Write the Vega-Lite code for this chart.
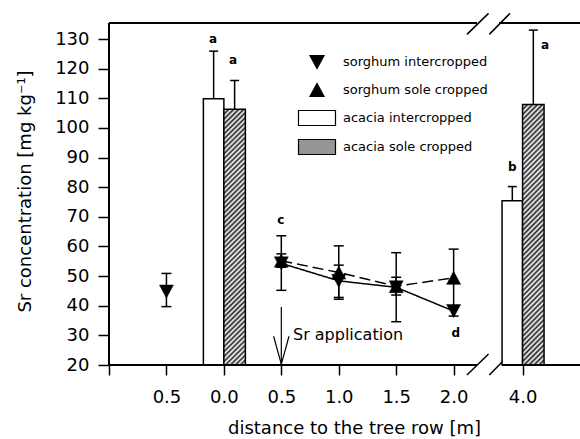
{
  "$schema": "https://vega.github.io/schema/vega-lite/v6.json",
  "width": 471,
  "height": 342,
  "autosize": {"type": "none"},
  "padding": {"left": 109, "top": 23, "right": 0, "bottom": 74},
  "background": "white",
  "config": {
    "view": {"stroke": null},
    "font": "DejaVu Sans",
    "axis": {"grid": false},
    "axisY": {
      "tickCount": 12, "domain": false, "tickSize": 11, "tickWidth": 1.5, "tickColor": "black",
      "labelFont": "DejaVu Sans", "labelFontSize": 18, "labelColor": "black", "labelPadding": 9,
      "labelOverlap": false, "labelFlush": false,
      "titleFont": "DejaVu Sans", "titleFontSize": 18, "titleFontWeight": "normal", "titleColor": "black"
    }
  },
  "datasets": {
    "sorghum": [
      {"pos": 0, "distance": "0.5", "series": "sorghum intercropped", "value": 44.8, "lo": 39.7, "hi": 50.9},
      {"pos": 2, "distance": "0.5", "series": "sorghum intercropped", "value": 54.3, "lo": 45.2, "hi": 63.6},
      {"pos": 3, "distance": "1.0", "series": "sorghum intercropped", "value": 48.4, "lo": 42.8, "hi": 53.7},
      {"pos": 4, "distance": "1.5", "series": "sorghum intercropped", "value": 46.2, "lo": 34.6, "hi": 57.9},
      {"pos": 5, "distance": "2.0", "series": "sorghum intercropped", "value": 38.2, "lo": 36.5, "hi": 40.0},
      {"pos": 2, "distance": "0.5", "series": "sorghum sole cropped", "value": 55.2, "lo": 53.0, "hi": 57.5},
      {"pos": 3, "distance": "1.0", "series": "sorghum sole cropped", "value": 51.2, "lo": 42.2, "hi": 60.2},
      {"pos": 4, "distance": "1.5", "series": "sorghum sole cropped", "value": 46.6, "lo": 43.6, "hi": 49.6},
      {"pos": 5, "distance": "2.0", "series": "sorghum sole cropped", "value": 49.4, "lo": 39.7, "hi": 59.1}
    ],
    "acacia": [
      {"pos": 1, "distance": "0.0", "series": "acacia intercropped", "value": 109.8, "hi": 125.9},
      {"pos": 1, "distance": "0.0", "series": "acacia sole cropped", "value": 106.3, "hi": 116.0},
      {"pos": 6.2, "distance": "4.0", "series": "acacia intercropped", "value": 75.4, "hi": 80.2},
      {"pos": 6.2, "distance": "4.0", "series": "acacia sole cropped", "value": 107.9, "hi": 133.0}
    ],
    "segments": [
      {"kind": "break", "x": 5.232, "x2": 5.608, "y": 131.57, "y2": 138.66},
      {"kind": "break", "x": 5.621, "x2": 5.981, "y": 131.57, "y2": 138.66},
      {"kind": "break", "x": 5.232, "x2": 5.608, "y": 16.63, "y2": 23.71},
      {"kind": "break", "x": 5.621, "x2": 5.981, "y": 16.63, "y2": 23.71},
      {"kind": "frame", "x": -1, "x2": -1, "y": 20, "y2": 135.4},
      {"kind": "frame", "x": -1, "x2": 5.407, "y": 135.4, "y2": 135.4},
      {"kind": "frame", "x": 5.79, "x2": 7.3, "y": 135.4, "y2": 135.4},
      {"kind": "frame", "x": -1, "x2": 5.407, "y": 20, "y2": 20},
      {"kind": "frame", "x": 5.842, "x2": 7.3, "y": 20, "y2": 20},
      {"kind": "arrow", "x": 2, "x2": 2, "y": 39.6, "y2": 20.3},
      {"kind": "arrow", "x": 1.866, "x2": 2, "y": 29.7, "y2": 20.3},
      {"kind": "arrow", "x": 2.134, "x2": 2, "y": 29.7, "y2": 20.3}
    ],
    "letters": [
      {"x": 0.81, "y": 130.0, "label": "a"},
      {"x": 1.159, "y": 122.9, "label": "a"},
      {"x": 1.99, "y": 68.9, "label": "c"},
      {"x": 5.036, "y": 30.7, "label": "d"},
      {"x": 6.02, "y": 86.8, "label": "b"},
      {"x": 6.59, "y": 128.0, "label": "a"}
    ],
    "notes": [
      {"x": 2.203, "y": 30.1, "label": "Sr application"}
    ]
  },
  "layer": [
    {
      "data": {"name": "segments"},
      "transform": [{"filter": "datum.kind == 'break'"}],
      "mark": {"type": "rule", "color": "black", "strokeWidth": 1.5},
      "encoding": {
        "x": {"field": "x", "type": "quantitative",
          "scale": {"domain": [-1, 7.2], "nice": false, "zero": false, "padding": 0},
          "axis": {
            "values": [-1, 0, 1, 2, 3, 4, 5, 6.2],
            "labelExpr": "datum.value == 0 ? '0.5' : datum.value == 1 ? '0.0' : datum.value == 2 ? '0.5' : datum.value == 3 ? '1.0' : datum.value == 4 ? '1.5' : datum.value == 5 ? '2.0' : datum.value == 6.2 ? '4.0' : ''",
            "domain": false, "tickSize": 10, "tickWidth": 1.5, "tickColor": "black",
            "labelFont": "DejaVu Sans", "labelFontSize": 18, "labelColor": "black", "labelPadding": 13,
            "labelFlush": false, "labelOverlap": false,
            "title": "distance to the tree row [m]", "titleFont": "DejaVu Sans", "titleFontSize": 18,
            "titleFontWeight": "normal", "titleColor": "black", "titleX": 245, "titleY": 63,
            "titleBaseline": "middle", "titleAlign": "center"
          }},
        "x2": {"field": "x2"},
        "y": {"field": "y", "type": "quantitative",
          "scale": {"domain": [20, 135.4], "nice": false, "zero": false, "padding": 0},
          "axis": {
            "values": [20, 30, 40, 50, 60, 70, 80, 90, 100, 110, 120, 130],
            "tickCount": 12,
            "title": "Sr concentration [mg kg⁻¹]", "titleX": -84, "titleY": 168,
            "titleBaseline": "middle", "titleAlign": "center", "titleAngle": -90
          }},
        "y2": {"field": "y2"}
      }
    },
    {
      "data": {"name": "acacia"},
      "transform": [{"filter": "datum.series == 'acacia intercropped'"}],
      "mark": {"type": "bar", "width": 20.5, "xOffset": -10.25, "stroke": "black", "strokeWidth": 1.5},
      "encoding": {
        "x": {"field": "pos", "type": "quantitative"},
        "y": {"field": "value", "type": "quantitative"},
        "y2": {"datum": 20},
        "fill": {"field": "series", "type": "nominal",
          "scale": {"domain": ["sorghum intercropped", "sorghum sole cropped", "acacia intercropped", "acacia sole cropped"],
                    "range": ["black", "black", "white", "#969696"]},
          "legend": {"orient": "none", "legendX": 197, "legendY": 28, "title": null, "padding": 0,
            "symbolSize": 400, "symbolStrokeColor": "black", "symbolStrokeWidth": 1.2, "symbolOpacity": 1,
            "labelFont": "DejaVu Sans", "labelFontSize": 13, "labelColor": "black", "rowPadding": 8, "labelOffset": 15,
            "encode": {"symbols": {"update": {
              "stroke": {"value": "black"},
              "strokeWidth": {"value": 1.2},
              "fill": [
              {"test": "datum.value == 'acacia sole cropped'",
               "value": {"gradient": "linear", "x1": 0, "y1": 0, "x2": 1.207, "y2": 0.489, "stops": [
                 {"offset": 0.0, "color": "#222"}, {"offset": 0.05, "color": "#fff"},
                 {"offset": 0.1, "color": "#222"}, {"offset": 0.15, "color": "#fff"},
                 {"offset": 0.2, "color": "#222"}, {"offset": 0.25, "color": "#fff"},
                 {"offset": 0.3, "color": "#222"}, {"offset": 0.35, "color": "#fff"},
                 {"offset": 0.4, "color": "#222"}, {"offset": 0.45, "color": "#fff"},
                 {"offset": 0.5, "color": "#222"}, {"offset": 0.55, "color": "#fff"},
                 {"offset": 0.6, "color": "#222"}, {"offset": 0.65, "color": "#fff"},
                 {"offset": 0.7, "color": "#222"}, {"offset": 0.75, "color": "#fff"},
                 {"offset": 0.8, "color": "#222"}, {"offset": 0.85, "color": "#fff"},
                 {"offset": 0.9, "color": "#222"}, {"offset": 0.95, "color": "#fff"},
                 {"offset": 1.0, "color": "#222"}]}},
              {"test": "datum.value == 'acacia intercropped'", "value": "white"},
              {"value": "black"}
            ]}}}}}
      }
    },
    {
      "data": {"name": "acacia"},
      "transform": [{"filter": "datum.series == 'acacia sole cropped'"}],
      "mark": {"type": "bar", "width": 21.5, "xOffset": 10.75, "stroke": "black", "strokeWidth": 1.5,
        "fill": {"gradient": "linear", "x1": 0, "y1": 0, "x2": 0.0897, "y2": 1.0758, "stops": [
          {"offset": 0.0, "color": "#222"}, {"offset": 0.0089, "color": "#fff"},
          {"offset": 0.0179, "color": "#222"}, {"offset": 0.0268, "color": "#fff"},
          {"offset": 0.0357, "color": "#222"}, {"offset": 0.0446, "color": "#fff"},
          {"offset": 0.0536, "color": "#222"}, {"offset": 0.0625, "color": "#fff"},
          {"offset": 0.0714, "color": "#222"}, {"offset": 0.0804, "color": "#fff"},
          {"offset": 0.0893, "color": "#222"}, {"offset": 0.0982, "color": "#fff"},
          {"offset": 0.1071, "color": "#222"}, {"offset": 0.1161, "color": "#fff"},
          {"offset": 0.125, "color": "#222"}, {"offset": 0.1339, "color": "#fff"},
          {"offset": 0.1429, "color": "#222"}, {"offset": 0.1518, "color": "#fff"},
          {"offset": 0.1607, "color": "#222"}, {"offset": 0.1696, "color": "#fff"},
          {"offset": 0.1786, "color": "#222"}, {"offset": 0.1875, "color": "#fff"},
          {"offset": 0.1964, "color": "#222"}, {"offset": 0.2054, "color": "#fff"},
          {"offset": 0.2143, "color": "#222"}, {"offset": 0.2232, "color": "#fff"},
          {"offset": 0.2321, "color": "#222"}, {"offset": 0.2411, "color": "#fff"},
          {"offset": 0.25, "color": "#222"}, {"offset": 0.2589, "color": "#fff"},
          {"offset": 0.2679, "color": "#222"}, {"offset": 0.2768, "color": "#fff"},
          {"offset": 0.2857, "color": "#222"}, {"offset": 0.2946, "color": "#fff"},
          {"offset": 0.3036, "color": "#222"}, {"offset": 0.3125, "color": "#fff"},
          {"offset": 0.3214, "color": "#222"}, {"offset": 0.3304, "color": "#fff"},
          {"offset": 0.3393, "color": "#222"}, {"offset": 0.3482, "color": "#fff"},
          {"offset": 0.3571, "color": "#222"}, {"offset": 0.3661, "color": "#fff"},
          {"offset": 0.375, "color": "#222"}, {"offset": 0.3839, "color": "#fff"},
          {"offset": 0.3929, "color": "#222"}, {"offset": 0.4018, "color": "#fff"},
          {"offset": 0.4107, "color": "#222"}, {"offset": 0.4196, "color": "#fff"},
          {"offset": 0.4286, "color": "#222"}, {"offset": 0.4375, "color": "#fff"},
          {"offset": 0.4464, "color": "#222"}, {"offset": 0.4554, "color": "#fff"},
          {"offset": 0.4643, "color": "#222"}, {"offset": 0.4732, "color": "#fff"},
          {"offset": 0.4821, "color": "#222"}, {"offset": 0.4911, "color": "#fff"},
          {"offset": 0.5, "color": "#222"}, {"offset": 0.5089, "color": "#fff"},
          {"offset": 0.5179, "color": "#222"}, {"offset": 0.5268, "color": "#fff"},
          {"offset": 0.5357, "color": "#222"}, {"offset": 0.5446, "color": "#fff"},
          {"offset": 0.5536, "color": "#222"}, {"offset": 0.5625, "color": "#fff"},
          {"offset": 0.5714, "color": "#222"}, {"offset": 0.5804, "color": "#fff"},
          {"offset": 0.5893, "color": "#222"}, {"offset": 0.5982, "color": "#fff"},
          {"offset": 0.6071, "color": "#222"}, {"offset": 0.6161, "color": "#fff"},
          {"offset": 0.625, "color": "#222"}, {"offset": 0.6339, "color": "#fff"},
          {"offset": 0.6429, "color": "#222"}, {"offset": 0.6518, "color": "#fff"},
          {"offset": 0.6607, "color": "#222"}, {"offset": 0.6696, "color": "#fff"},
          {"offset": 0.6786, "color": "#222"}, {"offset": 0.6875, "color": "#fff"},
          {"offset": 0.6964, "color": "#222"}, {"offset": 0.7054, "color": "#fff"},
          {"offset": 0.7143, "color": "#222"}, {"offset": 0.7232, "color": "#fff"},
          {"offset": 0.7321, "color": "#222"}, {"offset": 0.7411, "color": "#fff"},
          {"offset": 0.75, "color": "#222"}, {"offset": 0.7589, "color": "#fff"},
          {"offset": 0.7679, "color": "#222"}, {"offset": 0.7768, "color": "#fff"},
          {"offset": 0.7857, "color": "#222"}, {"offset": 0.7946, "color": "#fff"},
          {"offset": 0.8036, "color": "#222"}, {"offset": 0.8125, "color": "#fff"},
          {"offset": 0.8214, "color": "#222"}, {"offset": 0.8304, "color": "#fff"},
          {"offset": 0.8393, "color": "#222"}, {"offset": 0.8482, "color": "#fff"},
          {"offset": 0.8571, "color": "#222"}, {"offset": 0.8661, "color": "#fff"},
          {"offset": 0.875, "color": "#222"}, {"offset": 0.8839, "color": "#fff"},
          {"offset": 0.8929, "color": "#222"}, {"offset": 0.9018, "color": "#fff"},
          {"offset": 0.9107, "color": "#222"}, {"offset": 0.9196, "color": "#fff"},
          {"offset": 0.9286, "color": "#222"}, {"offset": 0.9375, "color": "#fff"},
          {"offset": 0.9464, "color": "#222"}, {"offset": 0.9554, "color": "#fff"},
          {"offset": 0.9643, "color": "#222"}, {"offset": 0.9732, "color": "#fff"},
          {"offset": 0.9821, "color": "#222"}, {"offset": 0.9911, "color": "#fff"},
          {"offset": 1.0, "color": "#222"}
        ]}},
      "encoding": {
        "x": {"field": "pos", "type": "quantitative"},
        "y": {"field": "value", "type": "quantitative"},
        "y2": {"datum": 20}
      }
    },
    {
      "data": {"name": "acacia"},
      "transform": [{"filter": "datum.series == 'acacia intercropped'"}],
      "layer": [
        {"mark": {"type": "rule", "xOffset": -10.25, "color": "black", "strokeWidth": 1.5},
         "encoding": {"x": {"field": "pos", "type": "quantitative"}, "y": {"field": "value", "type": "quantitative"}, "y2": {"field": "hi"}}},
        {"mark": {"type": "tick", "orient": "horizontal", "xOffset": -10.25, "color": "black", "size": 9, "thickness": 1.5, "opacity": 1},
         "encoding": {"x": {"field": "pos", "type": "quantitative"}, "y": {"field": "hi", "type": "quantitative"}}}
      ]
    },
    {
      "data": {"name": "acacia"},
      "transform": [{"filter": "datum.series == 'acacia sole cropped'"}],
      "layer": [
        {"mark": {"type": "rule", "xOffset": 10.75, "color": "black", "strokeWidth": 1.5},
         "encoding": {"x": {"field": "pos", "type": "quantitative"}, "y": {"field": "value", "type": "quantitative"}, "y2": {"field": "hi"}}},
        {"mark": {"type": "tick", "orient": "horizontal", "xOffset": 10.75, "color": "black", "size": 9, "thickness": 1.5, "opacity": 1},
         "encoding": {"x": {"field": "pos", "type": "quantitative"}, "y": {"field": "hi", "type": "quantitative"}}}
      ]
    },
    {
      "data": {"name": "segments"},
      "transform": [{"filter": "datum.kind != 'break'"}],
      "mark": {"type": "rule", "color": "black"},
      "encoding": {
        "x": {"field": "x", "type": "quantitative"},
        "x2": {"field": "x2"},
        "y": {"field": "y", "type": "quantitative"},
        "y2": {"field": "y2"},
        "strokeWidth": {"field": "kind", "type": "nominal", "scale": {"domain": ["frame", "arrow"], "range": [2, 1.2]}, "legend": null}
      }
    },
    {
      "data": {"name": "sorghum"},
      "transform": [{"filter": "datum.pos >= 2"}],
      "mark": {"type": "line", "color": "black", "strokeWidth": 1.5},
      "encoding": {
        "x": {"field": "pos", "type": "quantitative"},
        "y": {"field": "value", "type": "quantitative"},
        "detail": {"field": "series"},
        "strokeDash": {"field": "series", "type": "nominal",
          "scale": {"domain": ["sorghum intercropped", "sorghum sole cropped"], "range": [[1, 0], [11, 5]]}, "legend": null}
      }
    },
    {
      "data": {"name": "sorghum"},
      "layer": [
        {"mark": {"type": "rule", "color": "black", "strokeWidth": 1.5},
         "encoding": {"x": {"field": "pos", "type": "quantitative"}, "y": {"field": "lo", "type": "quantitative"}, "y2": {"field": "hi"}}},
        {"mark": {"type": "tick", "orient": "horizontal", "color": "black", "size": 10, "thickness": 1.5, "opacity": 1},
         "encoding": {"x": {"field": "pos", "type": "quantitative"}, "y": {"field": "hi", "type": "quantitative"}}},
        {"mark": {"type": "tick", "orient": "horizontal", "color": "black", "size": 10, "thickness": 1.5, "opacity": 1},
         "encoding": {"x": {"field": "pos", "type": "quantitative"}, "y": {"field": "lo", "type": "quantitative"}}},
        {"mark": {"type": "point", "filled": true, "size": 400, "stroke": "black", "strokeWidth": 0.5, "opacity": 1},
         "encoding": {
           "x": {"field": "pos", "type": "quantitative"},
           "y": {"field": "value", "type": "quantitative"},
           "fill": {"field": "series", "type": "nominal"},
           "shape": {"field": "series", "type": "nominal",
             "scale": {"domain": ["sorghum intercropped", "sorghum sole cropped", "acacia intercropped", "acacia sole cropped"],
                       "range": ["M-0.7,-0.65L0.7,-0.65L0,0.65Z", "M-0.7,0.65L0.7,0.65L0,-0.65Z", "M-1.85,-0.75L1.85,-0.75L1.85,0.75L-1.85,0.75Z", "M-1.85,-0.75L1.85,-0.75L1.85,0.75L-1.85,0.75Z"]}}
         }}
      ]
    },
    {
      "data": {"name": "letters"},
      "mark": {"type": "text", "font": "DejaVu Sans", "fontSize": 12, "fontWeight": "bold", "color": "black", "align": "center", "baseline": "middle"},
      "encoding": {
        "x": {"field": "x", "type": "quantitative"},
        "y": {"field": "y", "type": "quantitative"},
        "text": {"field": "label"}
      }
    },
    {
      "data": {"name": "notes"},
      "mark": {"type": "text", "font": "DejaVu Sans", "fontSize": 16, "color": "black", "align": "left", "baseline": "middle"},
      "encoding": {
        "x": {"field": "x", "type": "quantitative"},
        "y": {"field": "y", "type": "quantitative"},
        "text": {"field": "label"}
      }
    }
  ]
}
